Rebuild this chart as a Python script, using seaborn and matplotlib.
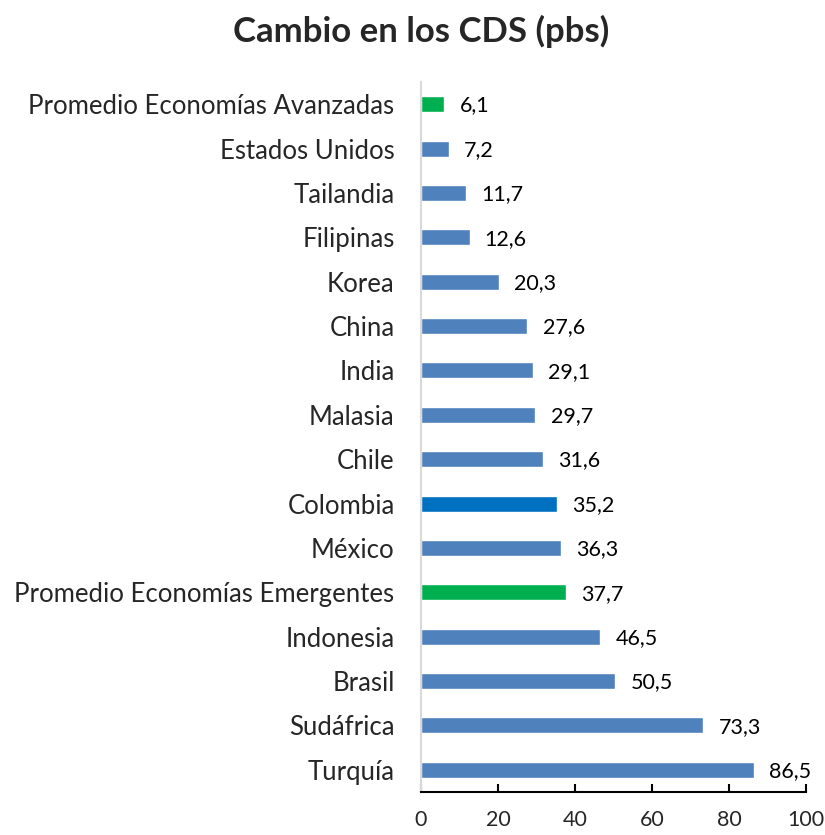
import matplotlib
matplotlib.use("Agg")
import matplotlib.pyplot as plt
import seaborn as sns
import pandas as pd

categories = [
    "Promedio Economías Avanzadas", "Estados Unidos", "Tailandia", "Filipinas",
    "Korea", "China", "India", "Malasia", "Chile", "Colombia", "México",
    "Promedio Economías Emergentes", "Indonesia", "Brasil", "Sudáfrica", "Turquía",
]
values = [6.1, 7.2, 11.7, 12.6, 20.3, 27.6, 29.1, 29.7, 31.6, 35.2, 36.3,
          37.7, 46.5, 50.5, 73.3, 86.5]
xticks = [0, 20, 40, 60, 80, 100]

BLUE = "#4F81BD"
DARK_BLUE = "#0070C0"
GREEN = "#00B050"
colors = []
for c in categories:
    if c.startswith("Promedio"):
        colors.append(GREEN)
    elif c == "Colombia":
        colors.append(DARK_BLUE)
    else:
        colors.append(BLUE)

df = pd.DataFrame({"pais": categories, "cambio": values})

sns.set_theme(style="white")
plt.rcParams["font.family"] = ["Lato", "DejaVu Sans"]

fig = plt.figure(figsize=(8.25, 8.35), dpi=100)
ax = fig.add_axes([421 / 825, 43 / 835, 385 / 825, 710 / 835])

sns.barplot(data=df, y="pais", x="cambio", hue="pais", palette=colors,
            legend=False, orient="h", width=0.36, ax=ax, saturation=1)

for i, v in enumerate(values):
    ax.annotate(f"{v:.1f}".replace(".", ","), xy=(v, i), xytext=(11, -1),
                textcoords="offset points", va="center", ha="left",
                fontsize=15.5, color="black")

ax.set_xlim(0, 100)
ax.set_ylim(15.5, -0.5)
ax.set_xticks(xticks)
ax.set_xticklabels([str(t) for t in xticks], fontsize=15.5)
ax.tick_params(axis="x", direction="in", length=6, width=1.5, color="black",
               pad=13, bottom=True)
ax.tick_params(axis="y", length=0, pad=19, labelsize=18.5)
ax.set_xlabel("")
ax.set_ylabel("")

for s in ["top", "right"]:
    ax.spines[s].set_visible(False)
ax.spines["left"].set_color("#D9D9D9")
ax.spines["left"].set_linewidth(1.5)
ax.spines["bottom"].set_color("black")
ax.spines["bottom"].set_linewidth(1.5)

fig.suptitle("Cambio en los CDS (pbs)", x=0.51, y=0.982, fontsize=25,
             fontweight="bold")

fig.savefig("out.png", dpi=100)
